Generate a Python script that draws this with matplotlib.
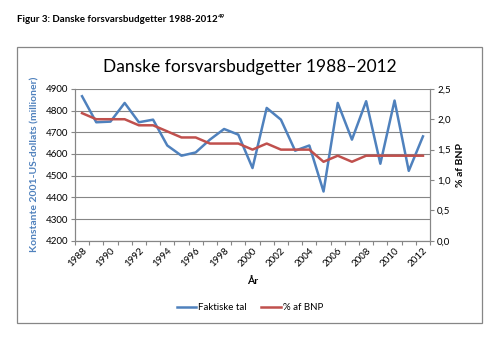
import numpy as np
import matplotlib.pyplot as plt
from matplotlib.patches import Rectangle

plt.rcParams['font.family'] = ['Lato', 'DejaVu Sans']

years = list(range(1988, 2013))
faktiske = [4866, 4746, 4749, 4835, 4746, 4758, 4639, 4592, 4607, 4666,
            4715, 4689, 4535, 4812, 4758, 4615, 4639, 4427, 4835, 4666,
            4843, 4555, 4846, 4522, 4681]
pct_bnp = [2.1, 2.0, 2.0, 2.0, 1.9, 1.9, 1.8, 1.7, 1.7, 1.6,
           1.6, 1.6, 1.5, 1.6, 1.5, 1.5, 1.5, 1.3, 1.4, 1.3,
           1.4, 1.4, 1.4, 1.4, 1.4]
left_ticks = list(range(4200, 5000, 100))
right_ticks = [0.0, 0.5, 1.0, 1.5, 2.0, 2.5]

blue = '#4F81BD'
red = '#C0504D'
grey = '#868686'

fig = plt.figure(figsize=(5.03, 3.43), dpi=100)
ax = fig.add_axes([0.149, 0.298, 0.706, 0.443])
ax2 = ax.twinx()

x = np.arange(len(years))
ax.plot(x, faktiske, color=blue, lw=1.8, zorder=3)
ax2.plot(x, pct_bnp, color=red, lw=1.8, zorder=3)

ax.set_xlim(-0.5, len(years) - 0.5)
ax.set_ylim(4200, 4900)
ax2.set_ylim(0, 2.5)

ax.set_yticks(left_ticks)
ax.yaxis.grid(True, color=grey, lw=0.8)
ax.set_axisbelow(True)
ax.tick_params(axis='y', labelsize=7, length=3, color=grey, pad=2)

ax2.set_yticks(right_ticks)
ax2.set_yticklabels([f'{v:.1f}'.replace('.', ',') for v in right_ticks])
ax2.tick_params(axis='y', labelsize=7, length=3, color=grey, pad=2)

# category ticks sit between years, labels on every second year
ax.set_xticks(np.arange(len(years) + 1) - 0.5, minor=False)
ax.set_xticklabels([])
ax.tick_params(axis='x', length=3, color=grey)
ax.set_xticks(x[::2], minor=True)
ax.set_xticklabels([str(y) for y in years[::2]], minor=True, rotation=45,
                   ha='right', va='top', rotation_mode='anchor', fontsize=7)
ax.tick_params(axis='x', which='minor', length=0, pad=4)

for a in (ax, ax2):
    a.spines['top'].set_visible(False)
    for s in ('left', 'right', 'bottom'):
        a.spines[s].set_color(grey)
        a.spines[s].set_linewidth(0.8)

ax.set_ylabel('Konstante 2001-US-dollats (millioner)', color=blue,
              fontweight='bold', fontsize=7.5, labelpad=4)
ax2.set_ylabel('% af BNP', fontweight='bold', fontsize=7.5, labelpad=4)
ax.set_xlabel('År', fontweight='bold', fontsize=7.5, labelpad=6)

fig.text(0.497, 0.805, 'Danske forsvarsbudgetter 1988–2012', ha='center',
         va='center', fontsize=12.5)

# legend under the chart
ax.legend(handles=[ax.lines[0], ax2.lines[0]],
          labels=['Faktiske tal', '% af BNP'], loc='center',
          bbox_to_anchor=(0.497, 0.103), bbox_transform=fig.transFigure,
          ncol=2, frameon=False, fontsize=7, handlelength=2.0,
          handletextpad=0.2, columnspacing=1.5)

fig.patches.append(Rectangle((17 / 503, 1 - 323 / 343), 465 / 503, 276 / 343,
                             transform=fig.transFigure, fill=False,
                             edgecolor=grey, lw=0.9))

cap = fig.text(17 / 503, 1 - 19 / 343, 'Figur 3: Danske forsvarsbudgetter 1988-2012',
               ha='left', va='center', fontsize=7, fontweight='bold')
plt.annotate('49', xy=(1, 0.45), xycoords=cap, xytext=(0.5, 0),
             textcoords='offset points', fontsize=4.5, fontweight='bold',
             ha='left', va='bottom', annotation_clip=False)

fig.savefig('out.png', dpi=100)
